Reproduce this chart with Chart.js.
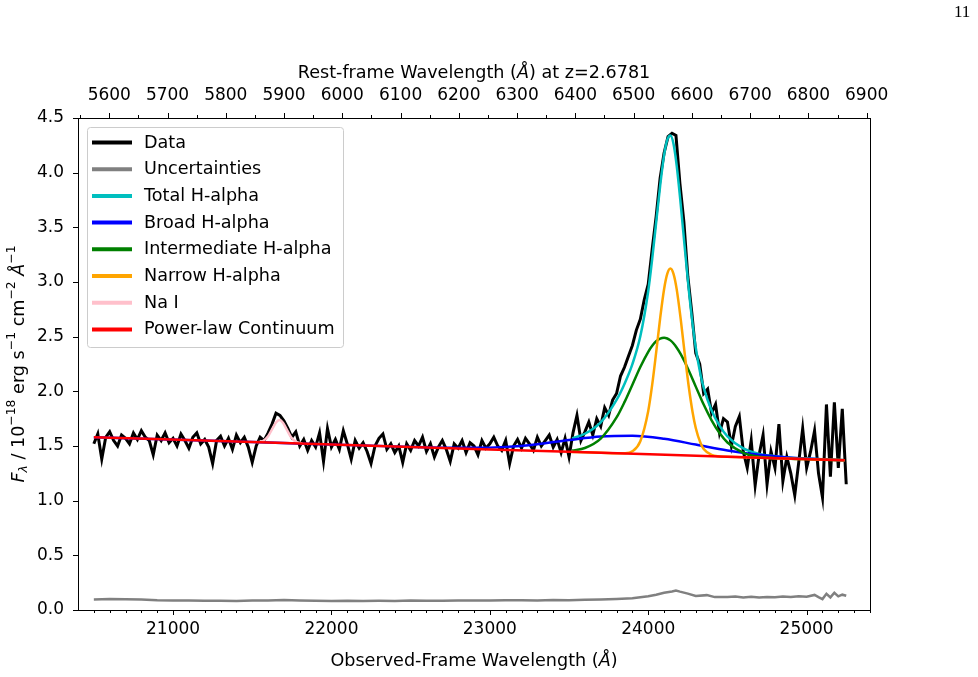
<!DOCTYPE html>
<html>
<head>
<meta charset="utf-8">
<script src="https://cdn.jsdelivr.net/npm/chart.js@4.4.1/dist/chart.umd.min.js"></script>
<style>
  html, body { margin: 0; padding: 0; background: #fff; }
  #wrap { position: relative; width: 978px; height: 677px; }
  #pageNo { position: absolute; left: 954px; top: 2px; font: 17px "Liberation Serif", "DejaVu Serif", serif; color: #000; }
</style>
</head>
<body>
<div id="wrap">
  <canvas id="spec" width="978" height="677"></canvas>
  <div id="pageNo">11</div>
</div>
<script>
// --- data -----------------------------------------------------------------
const Z1 = 3.6781; // 1 + z

// observed spectrum, sampled every 25 A from 20500 A
const fluxData = [
  1.52, 1.61, 1.38, 1.58, 1.63, 1.55, 1.50, 1.60, 1.57, 1.52, 1.62, 1.56, 1.64, 1.58, 1.55, 1.42, 1.60, 1.55, 1.62, 1.53,
  1.57, 1.50, 1.61, 1.55, 1.48, 1.58, 1.62, 1.52, 1.56, 1.49, 1.34, 1.55, 1.59, 1.50, 1.57, 1.47, 1.60, 1.53, 1.58, 1.49,
  1.35, 1.50, 1.58, 1.55, 1.62, 1.70, 1.80, 1.78, 1.73, 1.66, 1.58, 1.63, 1.50, 1.56, 1.46, 1.55, 1.49, 1.62, 1.36, 1.66,
  1.49, 1.56, 1.47, 1.64, 1.52, 1.38, 1.55, 1.48, 1.53, 1.45, 1.34, 1.50, 1.57, 1.61, 1.47, 1.52, 1.44, 1.50, 1.35, 1.52,
  1.46, 1.55, 1.50, 1.58, 1.45, 1.52, 1.40, 1.49, 1.55, 1.47, 1.36, 1.52, 1.48, 1.55, 1.44, 1.53, 1.50, 1.42, 1.55, 1.48,
  1.52, 1.58, 1.50, 1.46, 1.55, 1.34, 1.50, 1.56, 1.48, 1.57, 1.52, 1.46, 1.58, 1.50, 1.55, 1.60, 1.49, 1.56, 1.44, 1.57,
  1.40, 1.62, 1.78, 1.55, 1.63, 1.72, 1.60, 1.75, 1.68, 1.85, 1.78, 1.92, 1.98, 2.14, 2.22, 2.32, 2.42, 2.56, 2.66, 2.84,
  2.98, 3.30, 3.60, 3.95, 4.18, 4.33, 4.36, 4.34, 3.90, 3.55, 3.05, 2.72, 2.35, 2.25, 1.98, 2.02, 1.80, 1.88, 1.62, 1.75,
  1.72, 1.50, 1.68, 1.77, 1.45, 1.30, 1.55, 1.14, 1.42, 1.60, 1.15, 1.45, 1.30, 1.70, 1.18, 1.40, 1.25, 1.05, 1.35, 1.66,
  1.30, 1.45, 1.64, 1.25, 1.03, 1.88, 1.22, 1.90, 1.30, 1.84, 1.15
];
const waveData = fluxData.map((_, i) => 20500 + 25 * i);

const errWave = [20500, 20600, 20700, 20800, 20900, 21000, 21100, 21200, 21300, 21400, 21500, 21600, 21700, 21800,
  21900, 22000, 22100, 22200, 22300, 22400, 22500, 22600, 22700, 22800, 22900, 23000, 23100, 23200, 23300, 23400,
  23500, 23600, 23700, 23800, 23900, 24000, 24050, 24100, 24150, 24175, 24200, 24250, 24300, 24370, 24420,
  24500, 24550, 24600, 24650, 24700, 24750, 24800, 24850, 24900, 24950, 25000, 25050,
  25075, 25100, 25125, 25150, 25175, 25200, 25225, 25250];
const errFlux = [0.095, 0.100, 0.098, 0.097, 0.090, 0.088, 0.086, 0.084, 0.085, 0.083, 0.086, 0.088, 0.092, 0.087,
  0.084, 0.083, 0.085, 0.082, 0.084, 0.083, 0.086, 0.085, 0.084, 0.086, 0.088, 0.087, 0.090, 0.089, 0.087, 0.092,
  0.090, 0.093, 0.096, 0.101, 0.108, 0.125, 0.140, 0.158, 0.170, 0.178, 0.168, 0.150, 0.128, 0.136, 0.118,
  0.120, 0.123, 0.115, 0.121, 0.114, 0.120, 0.116, 0.124, 0.118, 0.125, 0.121, 0.138,
  0.118, 0.100, 0.148, 0.115, 0.158, 0.125, 0.140, 0.130];

// H-alpha fit window
const waveFit = [23520, 23600, 23700, 23800, 23850, 23900, 23950, 24000, 24025, 24050, 24075, 24100, 24120, 24140,
  24160, 24180, 24205, 24230, 24255, 24280, 24300, 24330, 24350, 24400, 24450, 24500, 24600, 24700, 24800, 24900,
  25000, 25100, 25240];
const totalHa = [1.570, 1.612, 1.717, 1.922, 2.068, 2.249, 2.503, 2.918, 3.212, 3.545, 3.877, 4.160, 4.300, 4.340,
  4.260, 4.060, 3.711, 3.324, 2.944, 2.615, 2.399, 2.155, 2.034, 1.825, 1.687, 1.589, 1.478, 1.428, 1.407, 1.393,
  1.385, 1.378, 1.370];
const interHa = [1.458, 1.482, 1.568, 1.761, 1.901, 2.061, 2.223, 2.362, 2.417, 2.458, 2.482, 2.490, 2.483, 2.466,
  2.438, 2.399, 2.341, 2.271, 2.193, 2.111, 2.043, 1.943, 1.879, 1.735, 1.618, 1.532, 1.438, 1.402, 1.391, 1.384,
  1.380, 1.375, 1.369];
const narrowHa = [1.446, 1.442, 1.438, 1.433, 1.434, 1.452, 1.544, 1.821, 2.061, 2.356, 2.666, 2.934, 3.074, 3.123,
  3.072, 2.930, 2.660, 2.348, 2.051, 1.809, 1.665, 1.527, 1.473, 1.418, 1.405, 1.402, 1.398, 1.393, 1.389, 1.384,
  1.380, 1.375, 1.369];

const waveBroad = [20500, 21500, 22500, 22700, 22900, 23100, 23300, 23500, 23700, 23900, 24100, 24300, 24500, 24700,
  24900, 25100, 25240];
const broadHa = [1.580, 1.536, 1.492, 1.485, 1.483, 1.492, 1.517, 1.554, 1.587, 1.594, 1.566, 1.513, 1.459, 1.419,
  1.393, 1.378, 1.370];

const waveNa = [21530, 21570, 21600, 21630, 21650, 21672, 21695, 21715, 21745, 21775, 21815];
const naI = [1.535, 1.548, 1.589, 1.666, 1.715, 1.738, 1.711, 1.659, 1.581, 1.540, 1.525];

const waveCont = [20500, 21500, 22500, 23500, 24500, 25240];
const contFlux = [1.580, 1.536, 1.491, 1.447, 1.402, 1.369];

const obsTicks = [21000, 22000, 23000, 24000, 25000];
const yTicks = [0, 0.5, 1, 1.5, 2, 2.5, 3, 3.5, 4, 4.5];
// ---------------------------------------------------------------------------

Chart.defaults.font.family = '"DejaVu Sans", sans-serif';
Chart.defaults.font.size = 17;
Chart.defaults.color = '#000';

const serie = (label, xs, ys, color, order, smooth, width) => ({
  label,
  data: xs.map((x, i) => ({ x, y: ys[i] })),
  borderColor: color,
  backgroundColor: color,
  borderWidth: width || 2.5,
  pointRadius: 0,
  fill: false,
  order,
  tension: 0,
  cubicInterpolationMode: smooth ? 'monotone' : 'default'
});

// mixed text (italic, sub/superscripts) like matplotlib mathtext
function richText(ctx, parts, x, y) {
  const font = p => {
    const small = p[1].includes('sup') || p[1].includes('sub');
    return (p[1].includes('i') ? 'italic ' : '') + (small ? 12.4 : 17.6) + 'px "DejaVu Sans"';
  };
  let w = 0;
  parts.forEach(p => { ctx.font = font(p); w += ctx.measureText(p[0]).width; });
  let cx = x - w / 2;
  ctx.textAlign = 'left';
  ctx.textBaseline = 'middle';
  parts.forEach(p => {
    ctx.font = font(p);
    const dy = p[1].includes('sup') ? -7 : p[1].includes('sub') ? 5 : 0;
    ctx.fillText(p[0], cx, y + dy);
    cx += ctx.measureText(p[0]).width;
  });
}

const decor = {
  id: 'decor',
  afterDraw(chart) {
    const { ctx, chartArea: a, scales } = chart;
    ctx.save();
    ctx.strokeStyle = '#000';
    ctx.lineWidth = 1;
    ctx.beginPath();
    for (let v = 20500; v <= 25400; v += 100) {
      const px = Math.round(scales.x.getPixelForValue(v)) + 0.5;
      ctx.moveTo(px, a.bottom);
      ctx.lineTo(px, a.bottom + (v % 1000 === 0 ? 5 : 3));
    }
    for (let v = 5550; v <= 6900; v += 50) {
      const px = Math.round(scales.xTop.getPixelForValue(v)) + 0.5;
      ctx.moveTo(px, a.top);
      ctx.lineTo(px, a.top - (v % 100 === 0 ? 5 : 3));
    }
    yTicks.forEach(v => {
      const py = Math.round(scales.y.getPixelForValue(v)) + 0.5;
      ctx.moveTo(a.left, py);
      ctx.lineTo(a.left - 5, py);
    });
    ctx.stroke();
    ctx.strokeRect(a.left + 0.5, a.top + 0.5, a.right - a.left, a.bottom - a.top);

    // axis titles
    ctx.fillStyle = '#000';
    const cxm = (a.left + a.right) / 2;
    richText(ctx, [['Rest-frame Wavelength (', ''], ['Å', 'i'], [') at z=2.6781', '']], cxm, 73);
    richText(ctx, [['Observed-Frame Wavelength (', ''], ['Å', 'i'], [')', '']], cxm, 661);
    ctx.save();
    ctx.translate(19, 364);
    ctx.rotate(-Math.PI / 2);
    richText(ctx, [['F', 'i'], ['λ', 'isub'], [' / 10', ''], ['−18', 'sup'], [' erg s', ''], ['−1', 'sup'],
      [' cm', ''], ['−2', 'sup'], [' ', ''], ['Å', 'i'], ['−1', 'sup']], 0, 0);
    ctx.restore();

    // legend box in upper left of the axes
    const lx = a.left + 9, ly = a.top + 9, lw = 256, lh = 220;
    ctx.beginPath();
    ctx.roundRect(lx + 0.5, ly + 0.5, lw, lh, 3);
    ctx.fillStyle = 'rgba(255,255,255,0.8)';
    ctx.fill();
    ctx.strokeStyle = '#cccccc';
    ctx.lineWidth = 1;
    ctx.stroke();
    ctx.font = '17.6px "DejaVu Sans"';
    ctx.textAlign = 'left';
    ctx.textBaseline = 'middle';
    chart.data.datasets.forEach((d, i) => {
      const ry = ly + 15.5 + i * 26.7;
      ctx.strokeStyle = d.borderColor;
      ctx.lineWidth = 4;
      ctx.beginPath();
      ctx.moveTo(lx + 5, ry);
      ctx.lineTo(lx + 45, ry);
      ctx.stroke();
      ctx.fillStyle = '#000';
      ctx.fillText(d.label, lx + 57, ry + 0.5);
    });
    ctx.restore();
  }
};

new Chart(document.getElementById('spec'), {
  type: 'line',
  data: {
    datasets: [
      serie('Data', waveData, fluxData, '#000000', 8, false, 3),
      serie('Uncertainties', errWave, errFlux, '#808080', 7, false),
      serie('Total H-alpha', waveFit, totalHa, '#00bfbf', 6, true),
      serie('Broad H-alpha', waveBroad, broadHa, '#0000ff', 5, true),
      serie('Intermediate H-alpha', waveFit, interHa, '#008000', 4, true),
      serie('Narrow H-alpha', waveFit, narrowHa, '#ffa500', 3, true),
      serie('Na I', waveNa, naI, '#ffc0cb', 2, true),
      serie('Power-law Continuum', waveCont, contFlux, '#ff0000', 1, true)
    ]
  },
  options: {
    responsive: false,
    devicePixelRatio: 1,
    animation: false,
    events: [],
    layout: { padding: { left: 0, right: 108, top: 0, bottom: 0 } },
    plugins: { legend: { display: false }, tooltip: { enabled: false } },
    scales: {
      x: {
        type: 'linear', position: 'bottom', min: 20400, max: 25400,
        afterBuildTicks: s => { s.ticks = obsTicks.map(v => ({ value: v })); },
        ticks: { padding: 9, maxRotation: 0, autoSkip: false, callback: v => String(v) },
        grid: { display: false, drawTicks: false },
        border: { display: false },
        afterFit: s => { s.height = 67; }
      },
      xTop: {
        type: 'linear', axis: 'x', position: 'top', min: 20400 / Z1, max: 25400 / Z1,
        ticks: { stepSize: 100, includeBounds: false, padding: 12, maxRotation: 0, autoSkip: false,
                 callback: v => String(Math.round(v)) },
        grid: { display: false, drawTicks: false },
        border: { display: false },
        afterFit: s => { s.height = 118; }
      },
      y: {
        type: 'linear', min: 0, max: 4.5,
        afterBuildTicks: s => { s.ticks = yTicks.map(v => ({ value: v })); },
        ticks: { padding: 14, callback: v => v.toFixed(1) },
        grid: { display: false, drawTicks: false },
        border: { display: false },
        afterFit: s => { s.width = 78; }
      }
    }
  },
  plugins: [decor]
});
</script>
</body>
</html>
